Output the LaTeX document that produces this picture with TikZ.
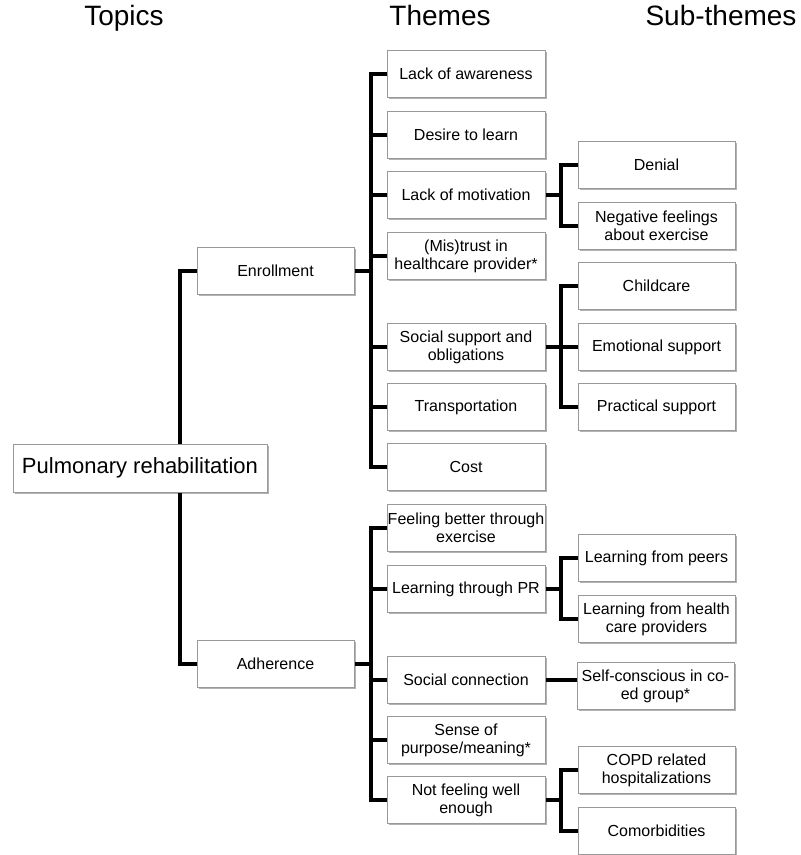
\documentclass[tikz,border=0pt]{standalone}
\usepackage{fontspec}
\setmainfont{Liberation Sans}
\usetikzlibrary{shadows}
\pgfdeclarelayer{bg}
\pgfsetlayers{bg,main}
\begin{document}
\begin{tikzpicture}[x=0.75pt,y=-0.75pt,
  box/.style={draw=black!40, fill=white, line width=0.6pt,
    drop shadow={shadow xshift=1.2pt, shadow yshift=-1.2pt, opacity=0.3, fill=black},
    minimum height=35.25pt, inner sep=0pt, align=center,
    font=\fontsize{12}{13.5}\selectfont},
  themebox/.style={box, minimum width=118.5pt},
  subbox/.style={box, minimum width=117.75pt},
  topicbox/.style={box, minimum width=117.75pt},
  rootbox/.style={box, minimum width=190.5pt, minimum height=36pt, font=\fontsize{16.5}{18}\selectfont},
  header/.style={anchor=base, font=\fontsize{21}{24}\selectfont, inner sep=0pt},
  link/.style={line width=2.3pt, line join=miter, black}]
\useasboundingbox (0,0) rectangle (800,855);

% headers
\node[header] (hTopics) at (124,26) {Topics};
\node[header] (hThemes) at (440,26) {Themes};
\node[header] (hSub) at (721,26) {Sub-themes};

% root and topics
\node[rootbox] (pr) at (140,468) {Pulmonary rehabilitation};
\node[topicbox] (enr) at (275.5,271) {Enrollment};
\node[topicbox] (adh) at (275.5,664) {Adherence};

% themes (enrollment)
\node[themebox] (t1) at (466,74) {Lack of awareness};
\node[themebox] (t2) at (466,135) {Desire to learn};
\node[themebox] (t3) at (466,195) {Lack of motivation};
\node[themebox] (t4) at (466,256) {(Mis)trust in\\healthcare provider*};
\node[themebox] (t5) at (466,347) {Social support and\\obligations};
\node[themebox] (t6) at (466,407) {Transportation};
\node[themebox] (t7) at (466,467) {Cost};

% themes (adherence)
\node[themebox] (a1) at (466,528) {Feeling better through\\exercise};
\node[themebox] (a2) at (466,589) {Learning through PR};
\node[themebox] (a3) at (466,680) {Social connection};
\node[themebox] (a4) at (466,740) {Sense of\\purpose/meaning*};
\node[themebox] (a5) at (466,800) {Not feeling well\\enough};

% sub-themes
\node[subbox] (s1) at (656.5,165) {Denial};
\node[subbox] (s2) at (656.5,226) {Negative feelings\\about exercise};
\node[subbox] (s3) at (656.5,286) {Childcare};
\node[subbox] (s4) at (656.5,347) {Emotional support};
\node[subbox] (s5) at (656.5,407) {Practical support};
\node[subbox] (s6) at (656.5,558) {Learning from peers};
\node[subbox] (s7) at (656.5,619) {Learning from health\\care providers};
\node[subbox] (s8) at (655.5,686) {Self-conscious in co-\\ed group*};
\node[subbox] (s9) at (656.5,770) {COPD related\\hospitalizations};
\node[subbox] (s10) at (656.5,831) {Comorbidities};

% spine coordinates
\coordinate (sT) at (180,468);
\coordinate (sE) at (371,271);
\coordinate (sA) at (371,664);
\coordinate (sM) at (561,195);
\coordinate (sS) at (561,347);
\coordinate (sL) at (561,589);
\coordinate (sN) at (561,800);

\begin{pgfonlayer}{bg}
  % topics
  \draw[link] (enr.west) -| (sT) |- (adh.west);
  % enrollment themes
  \draw[link] (enr.east) -- (sE);
  \draw[link] (t1.west) -| (sE) |- (t7.west);
  \foreach \t in {t2,t3,t4,t5,t6} \draw[link] (\t.west) -- (\t.west -| sE);
  % adherence themes
  \draw[link] (adh.east) -- (sA);
  \draw[link] (a1.west) -| (sA) |- (a5.west);
  \foreach \t in {a2,a3,a4} \draw[link] (\t.west) -- (\t.west -| sA);
  % sub-themes
  \draw[link] (t3.east) -- (sM);
  \draw[link] (s1.west) -| (sM) |- (s2.west);
  \draw[link] (t5.east) -- (s4.west);
  \draw[link] (s3.west) -| (sS) |- (s5.west);
  \draw[link] (a2.east) -- (sL);
  \draw[link] (s6.west) -| (sL) |- (s7.west);
  \draw[link] (a3.east) -- (a3.east -| s8.west);
  \draw[link] (a5.east) -- (sN);
  \draw[link] (s9.west) -| (sN) |- (s10.west);
\end{pgfonlayer}
\end{tikzpicture}
\end{document}
